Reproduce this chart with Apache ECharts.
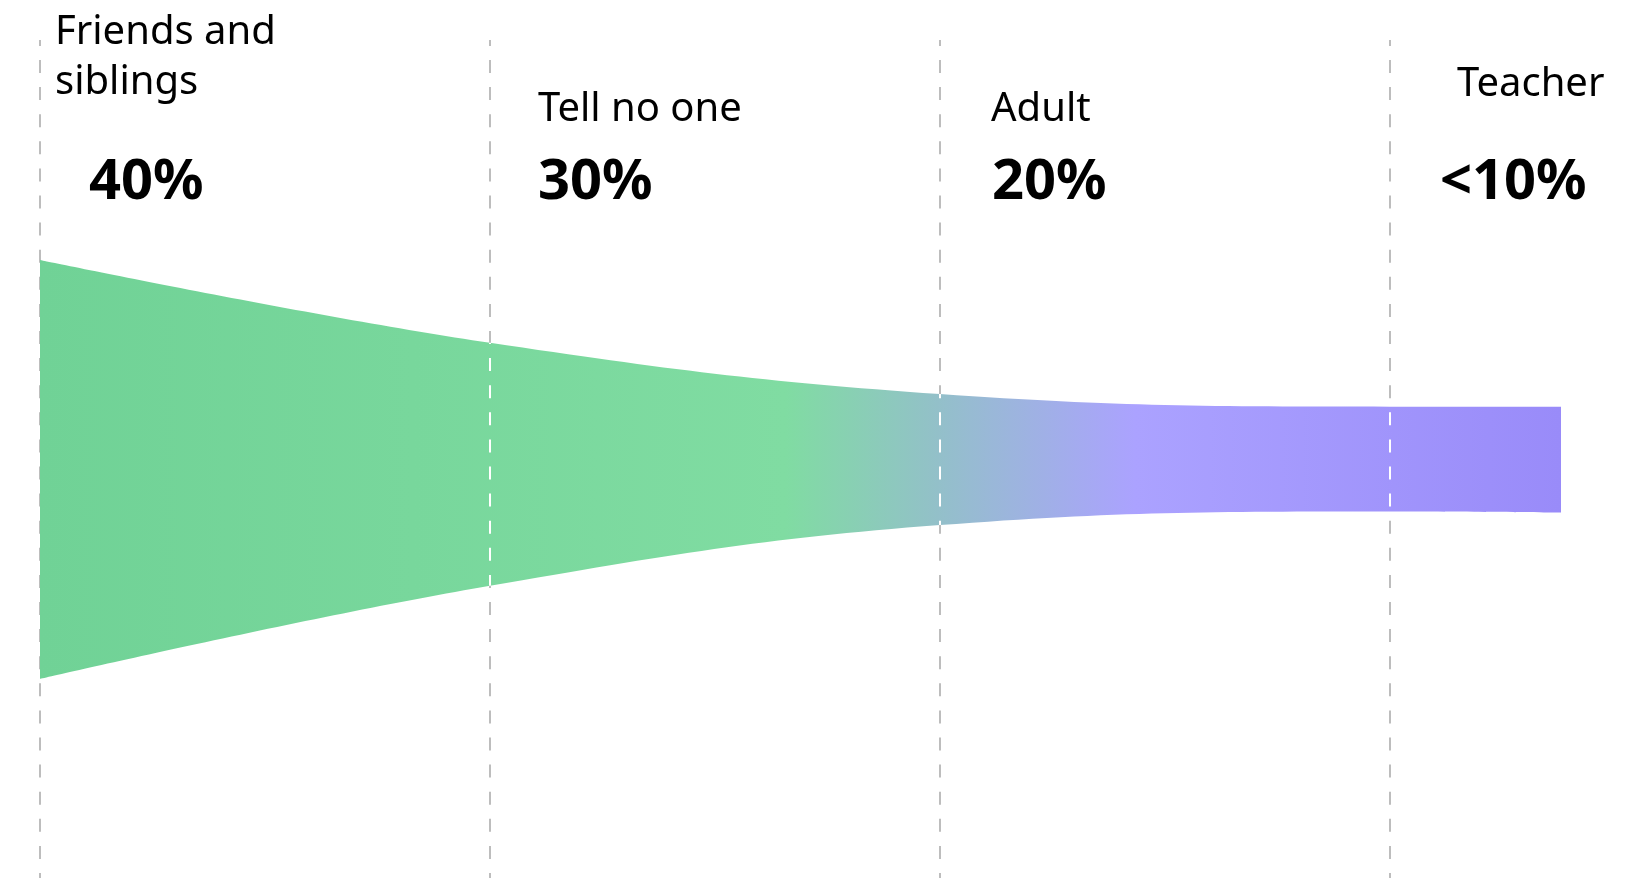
<!DOCTYPE html>
<html>
<head>
<meta charset="utf-8">
<style>
html,body{margin:0;padding:0;background:#fff;}
#chart{width:1629px;height:878px;}
</style>
<script src="https://cdn.jsdelivr.net/npm/echarts@6/dist/echarts.min.js"></script>
</head>
<body>
<div id="chart"></div>
<script>
// ---- data ----
var categories = ['Friends and\nsiblings', 'Tell no one', 'Adult', 'Teacher'];
var shares = ['40%', '30%', '20%', '<10%'];
var categoryX = [0, 1, 2, 3];
// band outline (value units on a 0..80 scale)
var bandX = [0, 1, 2, 3, 3.38];
var bandBase = [19, 27.9, 33.7, 35, 34.9];
var bandThickness = [40, 23.2, 12.5, 10, 10.1];

// ---- layout constants ----
var GRID_TOP = 40;
var DASH = [13, 14.1];
var DASH_OFFSET = 7.1;
var nameDx = [15, 48, 51, 67];
var nameBaseline = [43, 120, 120, 95];
var shareDx = [49, 48, 52, 50];
var shareBaseline = 200;
var NAME_SIZE = 40, SHARE_SIZE = 56, LINE_H = 50;
var FONT = '"Noto Sans", sans-serif';

var chart = echarts.init(document.getElementById('chart'), null, {renderer: 'canvas'});

// column 0 = y value (stacked), column 1 = x position
var baseData = bandX.map(function (x, i) { return [bandBase[i], x]; });
var thickData = bandX.map(function (x, i) { return [bandThickness[i], x]; });
var whiteLineData = [];
categoryX.forEach(function (x) {
  var k = bandX.indexOf(x);
  if (x > 0 && k >= 0) whiteLineData.push([x, bandBase[k], bandBase[k] + bandThickness[k]]);
});
var labelData = categoryX.map(function (x, i) { return [x, i]; });

var option = {
  animation: false,
  backgroundColor: '#fff',
  grid: {left: 40, right: 14, top: GRID_TOP, bottom: 0},
  xAxis: {
    type: 'value', min: 0, max: 3.5, interval: 1,
    axisLabel: {show: false}, axisLine: {show: false}, axisTick: {show: false},
    splitLine: {
      show: true, showMaxLine: false,
      lineStyle: {color: '#bdbdbd', width: 2, type: DASH, dashOffset: DASH_OFFSET}
    }
  },
  yAxis: {
    type: 'value', min: 0, max: 80, show: false, splitLine: {show: false}
  },
  series: [
    {
      type: 'line', stack: 'band', data: baseData, encode: {x: 1, y: 0}, smooth: 0.4,
      symbol: 'none', lineStyle: {width: 0, opacity: 0}, silent: true, z: 2
    },
    {
      type: 'line', stack: 'band', data: thickData, encode: {x: 1, y: 0}, smooth: 0.4,
      symbol: 'none', lineStyle: {width: 0, opacity: 0}, silent: true, z: 2,
      areaStyle: {
        opacity: 1,
        color: new echarts.graphic.LinearGradient(0, 0, 1, 0, [
          {offset: 0, color: '#70d296'},
          {offset: 0.49, color: '#80dca2'},
          {offset: 0.59, color: '#93c0c9'},
          {offset: 0.72, color: '#aba2ff'},
          {offset: 1, color: '#998bf9'}
        ])
      }
    },
    {
      type: 'custom', data: whiteLineData, silent: true, clip: false, z: 5,
      encode: {x: 0, y: [1, 2]},
      renderItem: function (params, api) {
        var x = api.value(0);
        var p1 = api.coord([x, api.value(2)]);
        var p2 = api.coord([x, api.value(1)]);
        return {
          type: 'line',
          z2: 10,
          shape: {x1: p1[0], y1: p1[1], x2: p2[0], y2: p2[1]},
          style: {
            stroke: '#ffffff', lineWidth: 2, lineDash: DASH,
            lineDashOffset: DASH_OFFSET + (p1[1] - GRID_TOP)
          }
        };
      }
    },
    {
      type: 'custom', data: labelData, silent: true, clip: false, z: 6,
      renderItem: function (params, api) {
        var i = api.value(1);
        var x0 = api.coord([api.value(0), 80])[0];
        var lines = categories[i].split('\n');
        var children = lines.map(function (t, j) {
          return {
            type: 'text',
            style: {
              text: t, x: x0 + nameDx[i], y: nameBaseline[i] + j * LINE_H + 0.25 * NAME_SIZE,
              font: 'normal ' + NAME_SIZE + 'px ' + FONT, fill: '#000',
              align: 'left', verticalAlign: 'bottom'
            }
          };
        });
        children.push({
          type: 'text',
          style: {
            text: shares[i], x: x0 + shareDx[i], y: shareBaseline + 0.2 * SHARE_SIZE,
            font: 'bold ' + SHARE_SIZE + 'px ' + FONT, fill: '#000',
            align: 'left', verticalAlign: 'bottom'
          }
        });
        return {type: 'group', children: children};
      }
    }
  ]
};
chart.setOption(option);
</script>
</body>
</html>
